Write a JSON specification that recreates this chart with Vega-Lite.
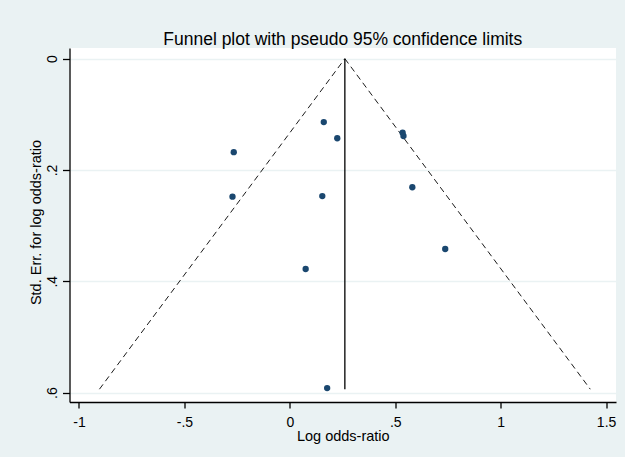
{
  "$schema": "https://vega.github.io/schema/vega-lite/v6.json",
  "width": 546.5,
  "height": 354,
  "autosize": {"type": "none"},
  "padding": {"left": 69.5, "top": 48, "right": 9, "bottom": 55},
  "background": "#EAF2F3",
  "title": {
    "text": "Funnel plot with pseudo 95% confidence limits",
    "font": "Liberation Sans",
    "fontSize": 17.5,
    "fontWeight": "normal",
    "color": "#000000",
    "anchor": "middle",
    "baseline": "alphabetic",
    "offset": 4.7,
    "dy": 19
  },
  "datasets": {
    "studies": [
      {"lor": 0.161, "se": 0.114},
      {"lor": 0.225, "se": 0.143},
      {"lor": -0.266, "se": 0.168},
      {"lor": -0.272, "se": 0.248},
      {"lor": 0.154, "se": 0.247},
      {"lor": 0.535, "se": 0.133},
      {"lor": 0.539, "se": 0.139},
      {"lor": 0.581, "se": 0.231},
      {"lor": 0.075, "se": 0.378},
      {"lor": 0.737, "se": 0.342},
      {"lor": 0.177, "se": 0.592}
    ],
    "limits": [
      {"side": "lower", "lor": 0.261, "se": 0},
      {"side": "lower", "lor": -0.903, "se": 0.594},
      {"side": "upper", "lor": 0.261, "se": 0},
      {"side": "upper", "lor": 1.425, "se": 0.594}
    ],
    "pooled": [
      {"lor": 0.261, "se": 0, "se2": 0.594}
    ]
  },
  "encoding": {
    "x": {
      "field": "lor",
      "type": "quantitative",
      "scale": {"domain": [-1.045, 1.547], "nice": false, "zero": false},
      "axis": {
        "title": "Log odds-ratio",
        "values": [-1, -0.5, 0, 0.5, 1, 1.5],
        "grid": false,
        "tickSize": 6,
        "labelFontSize": 14,
        "labelBaseline": "alphabetic",
        "labelPadding": 18.4,
        "labelFlush": false,
        "labelOverlap": false,
        "labelExpr": "replace(toString(datum.value), '0.', '.')",
        "titleFontSize": 14.5,
        "titleBaseline": "alphabetic",
        "titleY": 38.5
      }
    },
    "y": {
      "field": "se",
      "type": "quantitative",
      "scale": {"domain": [-0.0192, 0.617], "nice": false, "zero": false, "reverse": true},
      "axis": {
        "title": "Std. Err. for log odds-ratio",
        "values": [0, 0.2, 0.4, 0.6],
        "grid": true,
        "gridColor": "#EAF2F3",
        "gridWidth": 1.5,
        "tickSize": 7,
        "labelFontSize": 14,
        "labelAngle": 270,
        "labelAlign": "center",
        "labelBaseline": "middle",
        "labelPadding": 10.5,
        "labelOverlap": false,
        "labelFlush": false,
        "labelExpr": "replace(toString(datum.value), '0.', '.')",
        "titleFontSize": 14.5,
        "titleAngle": 270,
        "titleBaseline": "middle",
        "titleX": -33.5,
        "titleY": 174
      }
    }
  },
  "layer": [
    {
      "data": {"name": "limits"},
      "mark": {"type": "line", "color": "#1a1a1a", "strokeWidth": 1, "strokeDash": [6, 4]},
      "encoding": {"detail": {"field": "side", "type": "nominal"}}
    },
    {
      "data": {"name": "pooled"},
      "mark": {"type": "rule", "color": "#000000", "strokeWidth": 1.3},
      "encoding": {"y2": {"field": "se2"}}
    },
    {
      "data": {"name": "studies"},
      "mark": {"type": "point", "filled": true, "shape": "circle", "size": 40, "color": "#1A476F", "opacity": 1}
    }
  ],
  "config": {
    "view": {"fill": "#ffffff", "stroke": null},
    "axis": {
      "domainColor": "#000000",
      "domainWidth": 1.3,
      "tickColor": "#000000",
      "tickWidth": 1.3,
      "labelColor": "#000000",
      "titleColor": "#000000",
      "labelFont": "Liberation Sans",
      "titleFont": "Liberation Sans",
      "titleFontWeight": "normal"
    }
  }
}
